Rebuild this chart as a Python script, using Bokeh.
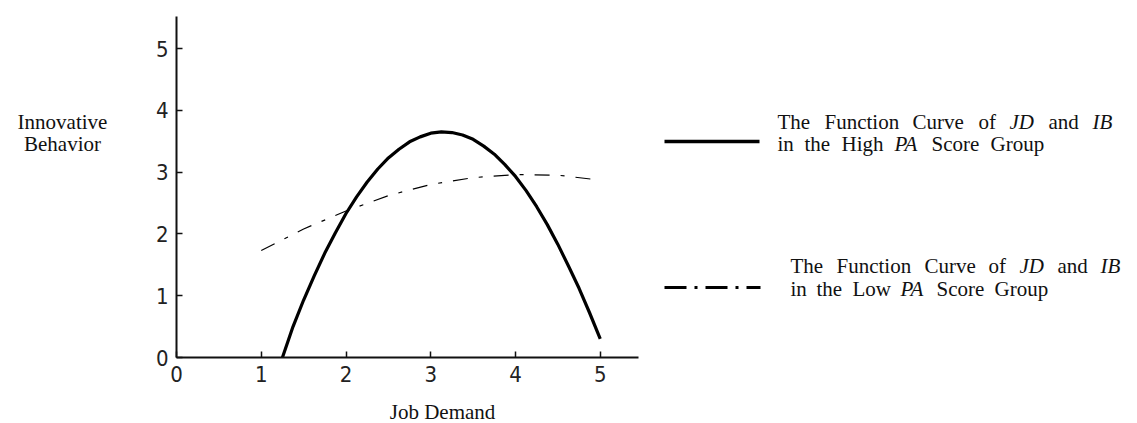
from bokeh.plotting import figure
from bokeh.models import Range1d, Label, FixedTicker
from bokeh.embed import file_html
from bokeh.resources import INLINE

# ---------------- data ----------------
jd_high = [1.25, 1.375, 1.5, 1.625, 1.75, 1.875, 2.0, 2.125, 2.25, 2.375, 2.5, 2.625, 2.75, 2.875,
           3.0, 3.125, 3.25, 3.375, 3.5, 3.625, 3.75, 3.875, 4.0, 4.125, 4.25, 4.375, 4.5, 4.625,
           4.75, 4.875, 5.0]
ib_high = [0.0, 0.50, 0.93, 1.32, 1.69, 2.02, 2.33, 2.60, 2.84, 3.05, 3.23, 3.37, 3.49, 3.57,
           3.63, 3.65, 3.64, 3.60, 3.53, 3.42, 3.29, 3.12, 2.93, 2.70, 2.44, 2.15, 1.83, 1.48,
           1.12, 0.72, 0.30]

jd_low = [1.0, 1.5, 2.0, 2.5, 3.0, 3.5, 4.0, 4.5, 5.0]
ib_low = [1.73, 2.08, 2.37, 2.62, 2.80, 2.91, 2.96, 2.95, 2.87]

x_ticks = [0, 1, 2, 3, 4, 5]
y_ticks = [0, 1, 2, 3, 4, 5]

x_title = "Job Demand"
y_title = ["Innovative", "Behavior"]

# legend words: (word, italic?)
legend_high = [
    [("The", False), ("Function", False), ("Curve", False), ("of", False), ("JD", True), ("and", False), ("IB", True)],
    [("in", False), ("the", False), ("High", False), ("PA", True), ("Score", False), ("Group", False)],
]
legend_low = [
    [("The", False), ("Function", False), ("Curve", False), ("of", False), ("JD", True), ("and", False), ("IB", True)],
    [("in", False), ("the", False), ("Low", False), ("PA", True), ("Score", False), ("Group", False)],
]

# ---------------- layout (canvas pixels -> data) ----------------
X0, XS = 176.0, 84.75   # canvas x of data 0, px per unit
Y0, YS = 357.0, 61.8    # canvas y of data 0, px per unit


def dx(px):
    return (px - X0) / XS


def dy(py):
    return (Y0 - py) / YS


W, H = 1130, 423
# the frame spans the whole canvas; the axes are pinned at data 0
p = figure(width=W, height=H, output_backend="svg", toolbar_location=None,
           x_range=Range1d(dx(0), dx(W)), y_range=Range1d(dy(H), dy(0)),
           min_border=0)
p.outline_line_color = None
p.grid.visible = False
p.background_fill_color = "white"
p.border_fill_color = "white"

TICK_FONT = "'Liberation Sans Narrow', 'DejaVu Sans Condensed', 'Liberation Sans', sans-serif"
SERIF = "Liberation Serif"

for ax, ticks in ((p.xaxis[0], x_ticks), (p.yaxis[0], y_ticks)):
    ax.fixed_location = 0
    ax.ticker = FixedTicker(ticks=ticks)
    ax.minor_tick_line_color = None
    ax.major_tick_in = 6
    ax.major_tick_out = 0
    ax.major_tick_line_width = 1.5
    ax.major_tick_line_color = "#111111"
    ax.axis_line_width = 2
    ax.axis_line_color = "#111111"
    ax.major_label_text_font = TICK_FONT
    ax.major_label_text_font_size = "22px"
    ax.major_label_text_color = "#222222"
    ax.major_label_standoff = 8

p.xaxis.bounds = (0, 5.45)
p.yaxis.bounds = (0, dy(16))

# curves
p.line(jd_high, ib_high, line_color="black", line_width=3.2, line_join="round")
p.line(jd_low, ib_low, line_color="black", line_width=1.2, line_dash="15 11 4 11")

# legend samples
p.line([dx(664), dx(759)], [dy(141), dy(141)], line_color="black", line_width=3.5)
p.line([dx(664), dx(760)], [dy(287), dy(287)], line_color="black", line_width=3, line_dash="22 8 3 8")

FS = "21px"


def word_label(x_px, mid_px, txt, italic, align="left"):
    p.add_layout(Label(x=dx(x_px), y=dy(mid_px), text=txt, text_font=SERIF,
                       text_font_size=FS, text_color="#111111",
                       text_font_style="italic" if italic else "normal",
                       text_align=align, text_baseline="middle"))


pos_high = [[777, 824, 912, 978, 1009, 1048, 1092], [777, 804, 841, 894, 931, 990]]
mid_high = [121, 143]
pos_low = [[790, 836, 924, 988, 1019, 1057, 1100], [790, 816, 852, 900, 936, 994]]
mid_low = [265, 288]

for words, xs, m in zip(legend_high, pos_high, mid_high):
    for (w, it), xp in zip(words, xs):
        word_label(xp, m, w, it)
for words, xs, m in zip(legend_low, pos_low, mid_low):
    for (w, it), xp in zip(words, xs):
        word_label(xp, m, w, it)

# axis titles
for txt, m in zip(y_title, [121, 143]):
    word_label(62, m, txt, False, align="center")
word_label(442, 411, x_title, False, align="center")

open("out.html", "w").write(file_html(p, INLINE))
